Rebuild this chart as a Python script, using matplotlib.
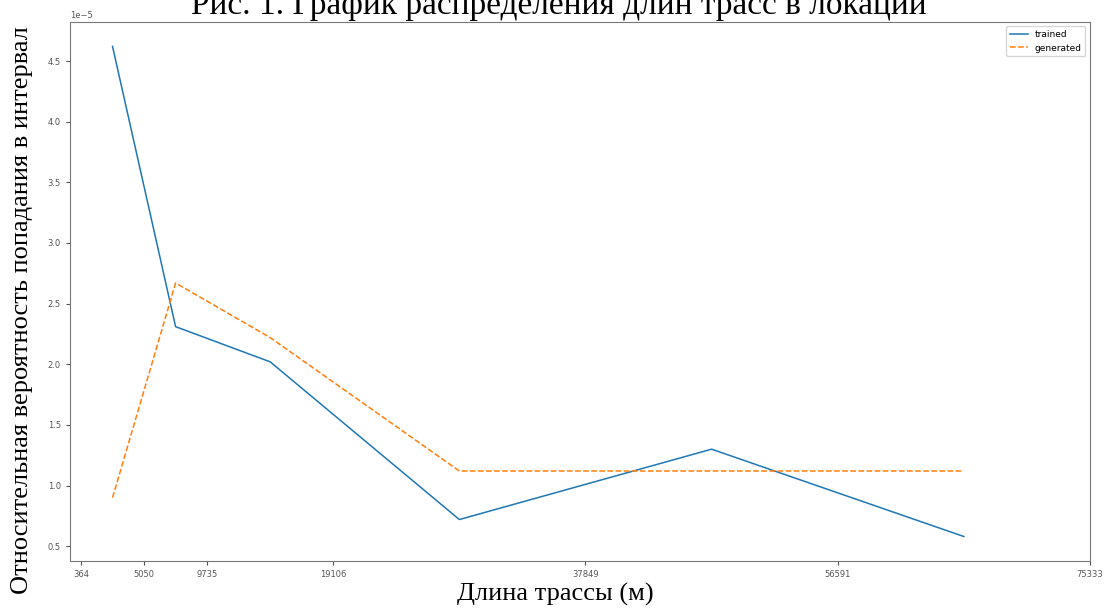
import matplotlib.pyplot as plt

# границы интервалов длины трассы
edges = [364, 5050, 9735, 19106, 37849, 56591, 75333]
centers = [(edges[i] + edges[i + 1]) / 2 for i in range(len(edges) - 1)]

trained = [4.62e-5, 2.31e-5, 2.02e-5, 0.72e-5, 1.30e-5, 0.58e-5]
generated = [0.90e-5, 2.67e-5, 2.22e-5, 1.12e-5, 1.12e-5, 1.12e-5]

fig = plt.figure(figsize=(11.07, 6.10), dpi=100)
ax = fig.add_axes([0.0632, 0.0803, 0.9214, 0.8837])

ax.plot(centers, trained, label='trained', color='tab:blue', lw=1.1)
ax.plot(centers, generated, '--', label='generated', color='tab:orange', lw=1.1)

ax.set_xticks(edges)
ax.set_xticklabels([str(e) for e in edges])
ax.tick_params(labelsize=6, colors='#555555', length=3)
ax.yaxis.get_offset_text().set_fontsize(6)
ax.yaxis.get_offset_text().set_color('#555555')
for s in ax.spines.values():
    s.set_color('#777777')

ax.legend(fontsize=6.5, loc='upper right')

ax.set_xlabel('Длина трассы (м)', family='Liberation Serif', fontsize=19)
ax.set_ylabel('Относительная вероятность попадания в интервал',
              family='Liberation Serif', fontsize=19)
ax.xaxis.set_label_coords(0.476, -0.041)
ax.yaxis.set_label_coords(-0.036, 0.466)

fig.text(0.505, 1 - 14 / 610, 'Рис. 1. График распределения длин трасс в локации',
         family='Liberation Serif', fontsize=24, ha='center', va='baseline')

fig.savefig('out.png', dpi=100)
